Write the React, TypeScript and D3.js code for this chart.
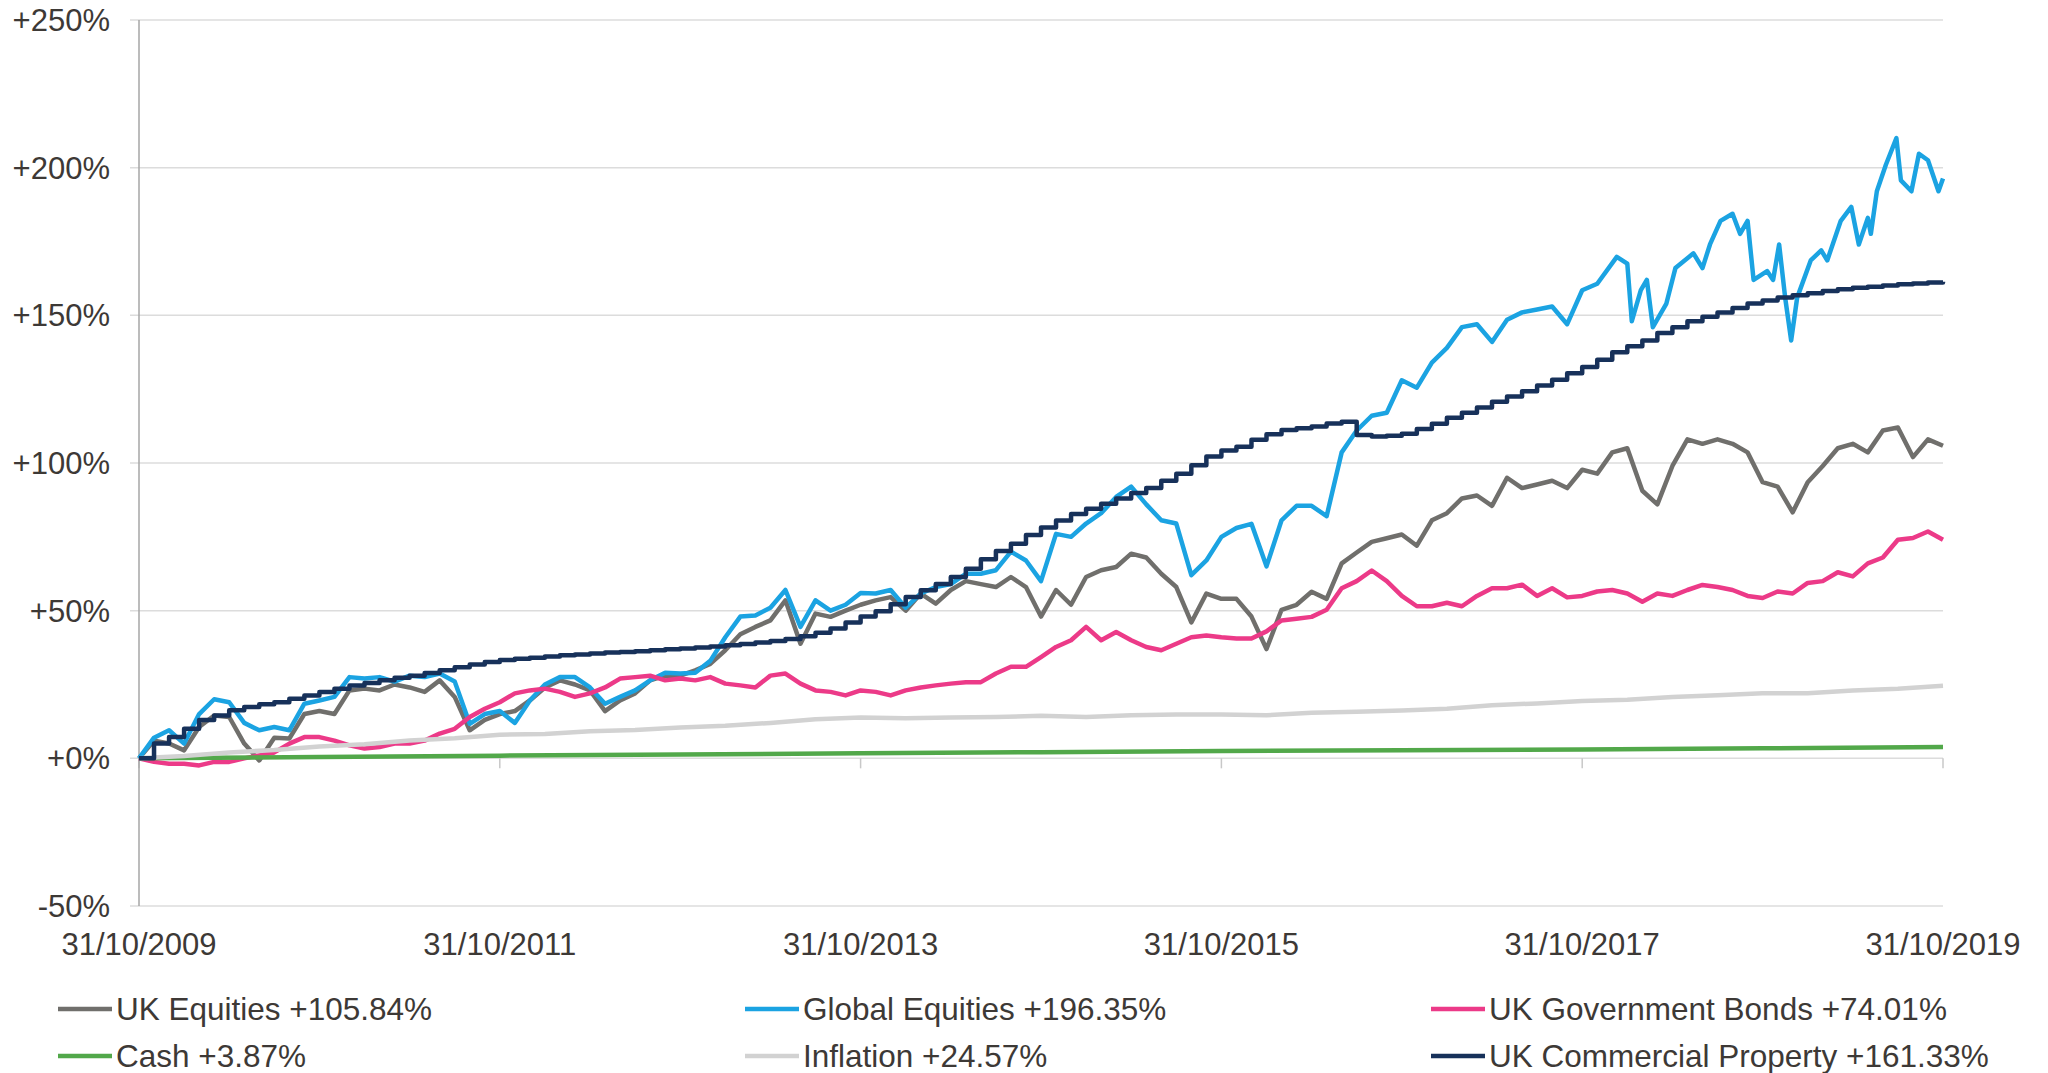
import React, { useEffect, useRef } from "react";
import * as d3 from "d3";

// month index 0 = 31/10/2009, 120 = 31/10/2019
const tickMonths = [0, 24, 48, 72, 96, 120];
const tickLabels = ["31/10/2009", "31/10/2011", "31/10/2013", "31/10/2015", "31/10/2017", "31/10/2019"];
const yTicks = [-50, 0, 50, 100, 150, 200, 250];

// monthly values, % cumulative return
const ukEquities = [
  0, 6, 5, 2.7, 10.6, 14.5, 14, 5, -0.7, 7, 6.7, 15, 16, 15, 23, 23.6, 23, 25, 24, 22.5, 26.4, 20.8, 9.5, 13, 15,
  16, 19.6, 24, 26.4, 25, 23, 16, 19.6, 22, 26.4, 28, 28, 29.8, 32, 36.6, 42, 44.5, 46.7, 53.5, 38.8, 49, 47.9, 50, 52,
  53.5, 54.6, 50, 55.8, 52.4, 57, 60, 59, 58, 61.4, 58, 48, 57, 52, 61.4, 63.7, 64.8, 69.3, 68, 62.5, 58, 46, 55.8, 54,
  54, 48, 37, 50.3, 52, 56.4, 54, 66, 69.7, 73.3, 74.5, 75.8, 72, 80.6, 83, 88, 89, 85.5, 95, 91.5, 92.7, 94, 91.5, 97.7,
  96.4, 103.6, 105, 90.6, 86, 99, 108, 106.5, 108, 106.5, 103.6, 93.5, 92, 83.3, 93.5, 99, 105, 106.5, 103.6, 111, 112, 102, 108, 105.84,
];

// global equities: monthly to Oct 2017, then finer readings
const globalMonths = [
  0, 1, 2, 3, 4, 5, 6, 7, 8, 9, 10, 11, 12, 13, 14, 15, 16, 17, 18, 19, 20, 21, 22, 23, 24,
  25, 26, 27, 28, 29, 30, 31, 32, 33, 34, 35, 36, 37, 38, 39, 40, 41, 42, 43, 44, 45, 46, 47, 48,
  49, 50, 51, 52, 53, 54, 55, 56, 57, 58, 59, 60, 61, 62, 63, 64, 65, 66, 67, 68, 69, 70, 71, 72,
  73, 74, 75, 76, 77, 78, 79, 80, 81, 82, 83, 84, 85, 86, 87, 88, 89, 90, 91, 92, 93, 94, 95, 96,
  97, 98.3, 99, 99.3, 99.9, 100.3, 100.7, 101.6, 102.2, 103.4, 104, 104.5, 105.2, 106, 106.5, 107, 107.4, 108.3, 108.7,
  109.1, 109.5, 109.9, 110.3, 111.2, 111.9, 112.3, 113.2, 113.9, 114.4, 115, 115.2, 115.6, 116.2, 116.9, 117.2, 117.9,
  118.4, 119, 119.7, 120,
];
const globalEquities = [
  0, 7, 9.5, 5, 15, 20, 19, 12, 9.5, 10.6, 9.5, 18.5, 19.6, 20.8, 27.5, 27, 27.5, 26, 28, 27.5, 28.7, 26, 11.7, 15, 16,
  12, 19.6, 25, 27.5, 27.5, 24, 18.5, 20.8, 23, 26.4, 29, 28.7, 29, 33, 41, 48, 48.4, 51, 57, 44.5, 53.5, 50, 52, 56,
  55.8, 57, 51, 55.8, 58, 59, 62.5, 62.5, 63.7, 70, 67, 60, 76, 75, 79.5, 83, 88.5, 92, 86, 80.6, 79.5, 62, 67, 75,
  78, 79.4, 65, 80.6, 85.5, 85.5, 82, 103.6, 111, 116, 117, 128, 125.5, 134, 139, 146, 147, 141, 148.5, 151, 152, 153, 147, 158.5,
  160.7, 169.8, 167.5, 148, 158.5, 162, 146, 154, 166, 171, 166, 174, 182, 184.4, 177.6, 182, 162, 165, 162,
  174, 156, 141.5, 156, 168.6, 172, 168.6, 182, 186.7, 174, 183, 177.6, 192, 201, 210, 195.7, 192,
  204.7, 202.5, 192, 196.35,
];
const ukGilts = [
  0, -1.2, -1.8, -1.8, -2.4, -1.2, -1.2, 0, 1, 2, 5, 7.2, 7.2, 6, 4.4, 3.3, 3.8, 5, 5, 6, 8.4, 10, 14, 16.8, 19,
  22, 23, 23.6, 22.5, 20.8, 22, 24, 27, 27.5, 28, 26.4, 27, 26.4, 27.5, 25.3, 24.7, 24, 28, 28.7, 25.3, 23, 22.5, 21.3, 23,
  22.5, 21.3, 23, 24, 24.7, 25.3, 25.8, 25.8, 28.7, 31, 31, 34.3, 37.7, 40, 44.5, 40, 42.8, 40, 37.7, 36.6, 38.8, 41, 41.6, 41,
  40.6, 40.6, 43, 46.7, 47.3, 47.9, 50.3, 57.6, 60, 63.6, 60, 55, 51.5, 51.5, 52.7, 51.5, 55, 57.6, 57.6, 58.8, 55, 57.6, 54.5, 55,
  56.5, 57, 55.8, 53, 55.8, 55, 57, 58.7, 58, 57, 55, 54.3, 56.5, 55.8, 59.4, 60, 63, 61.6, 66, 68, 74, 74.6, 76.8, 74.01,
];
const ukProperty = [
  0, 5, 7.2, 10, 13, 14.5, 16.3, 17.4, 18.3, 19, 20.2, 21.3, 22.5, 23.6, 24.7, 25.5, 26.4, 27.3, 28, 28.9, 29.8, 30.8, 31.8, 32.6, 33.3,
  33.7, 34.1, 34.5, 34.9, 35.2, 35.5, 35.8, 36, 36.3, 36.6, 36.9, 37.2, 37.5, 37.9, 38.3, 38.7, 39.2, 39.7, 40.4, 41.3, 42.5, 44, 46, 48,
  49.8, 52.2, 54.6, 56.9, 59, 61.4, 64.2, 67.4, 70.2, 72.7, 75.6, 78.2, 80.5, 82.7, 84.5, 86.2, 88, 89.8, 91.5, 94, 96.4, 99.2, 102.2, 104.2,
  105.5, 107.9, 109.7, 111.2, 111.8, 112.4, 113.4, 114, 109.5, 109, 109.2, 109.9, 111.5, 113.3, 115.3, 117, 118.8, 120.7, 122.5, 124.3, 126.2, 128.2, 130.4, 132.5,
  135, 137.5, 139.5, 141.5, 144, 146, 148, 149.5, 151, 152.5, 154, 155, 156, 156.8, 157.5, 158.2, 158.8, 159.3, 159.7, 160.1, 160.5, 160.8, 161.1, 161.33,
];
// quarterly points
const inflationMonths = [0, 3, 6, 9, 12, 15, 18, 21, 24, 27, 30, 33, 36, 39, 42, 45, 48, 51, 54, 57, 60, 63, 66, 69, 72, 75, 78, 81, 84, 87, 90, 93, 96, 99, 102, 105, 108, 111, 114, 117, 120];
const inflation = [0, 0.8, 2, 2.8, 4, 4.8, 6, 6.8, 8, 8.2, 9.2, 9.6, 10.4, 11, 12, 13.2, 13.8, 13.6, 13.8, 14, 14.4, 14, 14.6, 14.8, 14.8, 14.6, 15.4, 15.8, 16.2, 16.8, 18, 18.6, 19.4, 19.8, 20.8, 21.4, 22, 22, 23, 23.6, 24.57];
const cashMonths = [0, 12, 24, 36, 48, 60, 72, 84, 96, 108, 120];
const cash = [0, 0.45, 0.9, 1.3, 1.7, 2.1, 2.45, 2.75, 3.0, 3.4, 3.87];

const seriesNames = [
  "UK Equities +105.84%",
  "Global Equities +196.35%",
  "UK Government Bonds +74.01%",
  "Cash +3.87%",
  "Inflation +24.57%",
  "UK Commercial Property +161.33%",
];
const seriesColors = ["#706f6c", "#1ba3e2", "#ec3a88", "#52a84a", "#d2d2d2", "#17315a"];

const FONT = "'Liberation Sans', Arial, sans-serif";
const TEXT = "#3d3936";

const App = () => {
  const ref = useRef<SVGSVGElement>(null);

  useEffect(() => {
    const svg = d3.select(ref.current);
    svg.selectAll("*").remove();

    const left = 139, right = 1943, top = 20, bottom = 906;
    const x = d3.scaleLinear().domain([0, 120]).range([left, right]);
    const y = d3.scaleLinear().domain([-50, 250]).range([bottom, top]);

    // gridlines
    svg.append("g")
      .selectAll("line")
      .data(yTicks)
      .enter()
      .append("line")
      .attr("x1", left - 9)
      .attr("x2", right)
      .attr("y1", d => y(d))
      .attr("y2", d => y(d))
      .attr("stroke", "#dcdcdc")
      .attr("stroke-width", 1.5);

    // x ticks below the 0% line
    svg.append("g")
      .selectAll("line")
      .data(tickMonths)
      .enter()
      .append("line")
      .attr("x1", d => x(d))
      .attr("x2", d => x(d))
      .attr("y1", y(0))
      .attr("y2", y(0) + 10)
      .attr("stroke", "#c8c8c8")
      .attr("stroke-width", 1.5);

    // y axis line
    svg.append("line")
      .attr("x1", left).attr("x2", left)
      .attr("y1", top).attr("y2", bottom)
      .attr("stroke", "#a6a6a6")
      .attr("stroke-width", 1.5);

    // y labels
    svg.append("g")
      .selectAll("text")
      .data(yTicks)
      .enter()
      .append("text")
      .attr("x", 110)
      .attr("y", d => y(d))
      .attr("dy", "0.36em")
      .attr("text-anchor", "end")
      .style("font-family", FONT)
      .style("font-size", "31px")
      .attr("fill", TEXT)
      .text(d => (d >= 0 ? "+" : "") + d + "%");

    // x labels
    svg.append("g")
      .selectAll("text")
      .data(tickMonths)
      .enter()
      .append("text")
      .attr("x", d => x(d))
      .attr("y", 955)
      .attr("text-anchor", "middle")
      .style("font-family", FONT)
      .style("font-size", "31px")
      .attr("fill", TEXT)
      .text((d, i) => tickLabels[i]);

    const monthly = (vals: number[]) => vals.map((v, i) => [i, v] as [number, number]);
    const paired = (ms: number[], vals: number[]) => ms.map((m, i) => [m, vals[i]] as [number, number]);

    const line = d3.line<[number, number]>().x(d => x(d[0])).y(d => y(d[1]));
    const stepLine = d3.line<[number, number]>().x(d => x(d[0])).y(d => y(d[1])).curve(d3.curveStepAfter);

    const drawn = [
      { pts: monthly(ukEquities), gen: line, c: seriesColors[0] },
      { pts: paired(globalMonths, globalEquities), gen: line, c: seriesColors[1] },
      { pts: monthly(ukGilts), gen: line, c: seriesColors[2] },
      { pts: paired(cashMonths, cash), gen: line, c: seriesColors[3] },
      { pts: paired(inflationMonths, inflation), gen: line, c: seriesColors[4] },
      { pts: monthly(ukProperty), gen: stepLine, c: seriesColors[5] },
    ];

    drawn.forEach(s => {
      svg.append("path")
        .attr("d", s.gen(s.pts))
        .attr("fill", "none")
        .attr("stroke", s.c)
        .attr("stroke-width", 4.5)
        .attr("stroke-linejoin", "round");
    });

    // legend, 3 columns x 2 rows
    const colX = [58, 745, 1431];
    const rowY = [1009, 1056];
    seriesNames.forEach((name, i) => {
      const cx = colX[i % 3];
      const cy = rowY[Math.floor(i / 3)];
      svg.append("line")
        .attr("x1", cx).attr("x2", cx + 54)
        .attr("y1", cy).attr("y2", cy)
        .attr("stroke", seriesColors[i])
        .attr("stroke-width", 4.5);
      svg.append("text")
        .attr("x", cx + 58)
        .attr("y", cy)
        .attr("dy", "0.36em")
        .style("font-family", FONT)
        .style("font-size", "31.5px")
        .attr("fill", TEXT)
        .text(name);
    });
  }, []);

  return (
    <svg
      ref={ref}
      width={2048}
      height={1073}
      style={{ position: "absolute", left: 0, top: 0, background: "#fff" }}
    />
  );
};

export default App;
